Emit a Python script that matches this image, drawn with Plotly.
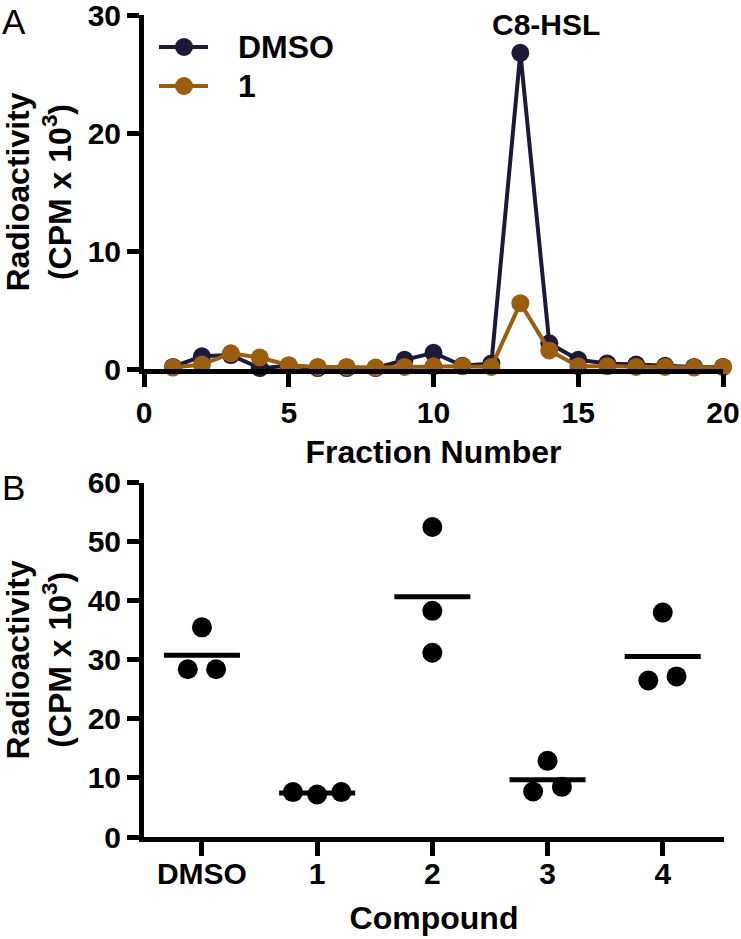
import numpy as np
import plotly.graph_objects as go

# ---------------- data ----------------
fractions = list(range(1, 21))
dmso_cpm = [0.2, 1.1, 1.2, 0.1, 0.3, 0.1, 0.1, 0.1, 0.8, 1.4,
            0.3, 0.5, 26.8, 2.2, 0.8, 0.5, 0.4, 0.3, 0.2, 0.2]
cmpd1_cpm = [0.15, 0.4, 1.35, 1.0, 0.35, 0.2, 0.2, 0.15, 0.2, 0.25,
             0.25, 0.2, 5.6, 1.6, 0.25, 0.25, 0.2, 0.2, 0.15, 0.2]

compounds = ["DMSO", "1", "2", "3", "4"]
rep_dmso = [35.5, 28.4, 28.4]
rep_1 = [7.6, 7.2, 7.6]
rep_2 = [52.5, 38.3, 31.2]
rep_3 = [12.9, 7.7, 8.5]
rep_4 = [38.0, 26.5, 27.2]

a_yticks = [0, 10, 20, 30]
a_xticks = [0, 5, 10, 15, 20]
b_yticks = [0, 10, 20, 30, 40, 50, 60]

# ---------------- styling ----------------
W, H = 741, 939
NAVY = "#1c1a38"
ORANGE = "#9b5e0e"
FONT = "Arial, Liberation Sans, Helvetica, sans-serif"
TICKSIZE = 30
TITLESIZE = 32

def pxx(p):
    return p / W

def pxy(p):
    return 1 - p / H

fig = go.Figure()

# Panel A lines
fig.add_trace(go.Scatter(x=fractions, y=dmso_cpm, mode="lines+markers", name="DMSO",
                         line=dict(color=NAVY, width=4), marker=dict(color=NAVY, size=18),
                         cliponaxis=False, showlegend=False, xaxis="x", yaxis="y"))
fig.add_trace(go.Scatter(x=fractions, y=cmpd1_cpm, mode="lines+markers", name="1",
                         line=dict(color=ORANGE, width=4), marker=dict(color=ORANGE, size=18),
                         cliponaxis=False, showlegend=False, xaxis="x", yaxis="y"))

# Panel B scatter with means
reps = [rep_dmso, rep_1, rep_2, rep_3, rep_4]
spread = [[0, -0.123, 0.123], [-0.21, 0, 0.21], [0, 0, 0], [0, -0.125, 0.125], [0, -0.125, 0.12]]
half = 0.33
for i, (vals, sp) in enumerate(zip(reps, spread)):
    m = float(np.mean(vals))
    fig.add_trace(go.Scatter(x=[i - half, i + half], y=[m, m], mode="lines",
                             line=dict(color="black", width=5), showlegend=False,
                             cliponaxis=False, xaxis="x2", yaxis="y2"))
    fig.add_trace(go.Scatter(x=[i + s for s in sp], y=vals, mode="markers",
                             marker=dict(color="black", size=20), showlegend=False,
                             cliponaxis=False, xaxis="x2", yaxis="y2"))

axis_common = dict(showline=True, linewidth=5, linecolor="black", ticks="outside",
                   tickwidth=5, tickcolor="black", showgrid=False, zeroline=False,
                   tickfont=dict(family=FONT, size=TICKSIZE, color="black", weight="bold"),
                   automargin=False, ticklabeloverflow="allow")

ytitle = dict(text="Radioactivity<br>(CPM x 10<sup>3</sup>)",
              font=dict(family=FONT, size=TITLESIZE, color="black", weight="bold"),
              standoff=12)

a_ytop = 30.02
a_top_px = 369.3 - (369.3 - 15) * a_ytop / 30

fig.update_layout(
    width=W, height=H, margin=dict(l=0, r=0, t=0, b=0),
    paper_bgcolor="white", plot_bgcolor="white",
    xaxis=dict(domain=[pxx(144), pxx(723)], range=[0, 20], tickvals=a_xticks,
               ticklen=13, anchor="y",
               title=dict(text="Fraction Number", standoff=14,
                          font=dict(family=FONT, size=TITLESIZE, color="black", weight="bold")),
               **axis_common),
    yaxis=dict(domain=[pxy(369.3), pxy(a_top_px)], range=[0, a_ytop], tickvals=a_yticks,
               ticklen=12, anchor="x", title=ytitle, **axis_common),
    xaxis2=dict(domain=[pxx(144), pxx(724)], range=[-0.503, 4.532],
                tickvals=list(range(len(compounds))), ticktext=compounds,
                ticklen=14, anchor="y2", ticklabelstandoff=-8,
                title=dict(text="Compound", standoff=19,
                           font=dict(family=FONT, size=TITLESIZE, color="black", weight="bold")),
                **axis_common),
    yaxis2=dict(domain=[pxy(837), pxy(482.7)], range=[0, 60], tickvals=b_yticks,
                ticklen=12, anchor="x2", title=ytitle, **axis_common),
)

# Manual legend (panel A)
legend_items = [("DMSO", NAVY, 47), ("1", ORANGE, 86)]
for label, col, ypix in legend_items:
    fig.add_shape(type="line", xref="paper", yref="paper",
                  x0=pxx(159), x1=pxx(208), y0=pxy(ypix), y1=pxy(ypix),
                  line=dict(color=col, width=4))
    fig.add_shape(type="circle", xref="paper", yref="paper",
                  xsizemode="pixel", ysizemode="pixel",
                  xanchor=pxx(184), yanchor=pxy(ypix), x0=-9, x1=9, y0=-9, y1=9,
                  fillcolor=col, line=dict(color=col, width=0))
    fig.add_annotation(text=label, xref="paper", yref="paper", x=pxx(236), y=pxy(ypix),
                       xanchor="left", yanchor="middle", showarrow=False,
                       font=dict(family=FONT, size=32, color="black", weight="bold"))

fig.add_annotation(text="C8-HSL", xref="x", yref="y", x=11.95, y=29.2,
                   xanchor="left", yanchor="middle", showarrow=False,
                   font=dict(family=FONT, size=TICKSIZE, color="black", weight="bold"))

# Panel letters
fig.add_annotation(text="A", xref="paper", yref="paper", x=0, y=1,
                   xanchor="left", yanchor="top", showarrow=False,
                   font=dict(family=FONT, size=35, color="black"))
fig.add_annotation(text="B", xref="paper", yref="paper", x=0, y=pxy(466),
                   xanchor="left", yanchor="top", showarrow=False,
                   font=dict(family=FONT, size=35, color="black"))

# page body margin removed so the 741x939 figure fills the window exactly
fig.write_html("out.html", config={"displayModeBar": False},
               post_script="document.body.style.margin='0px';")
